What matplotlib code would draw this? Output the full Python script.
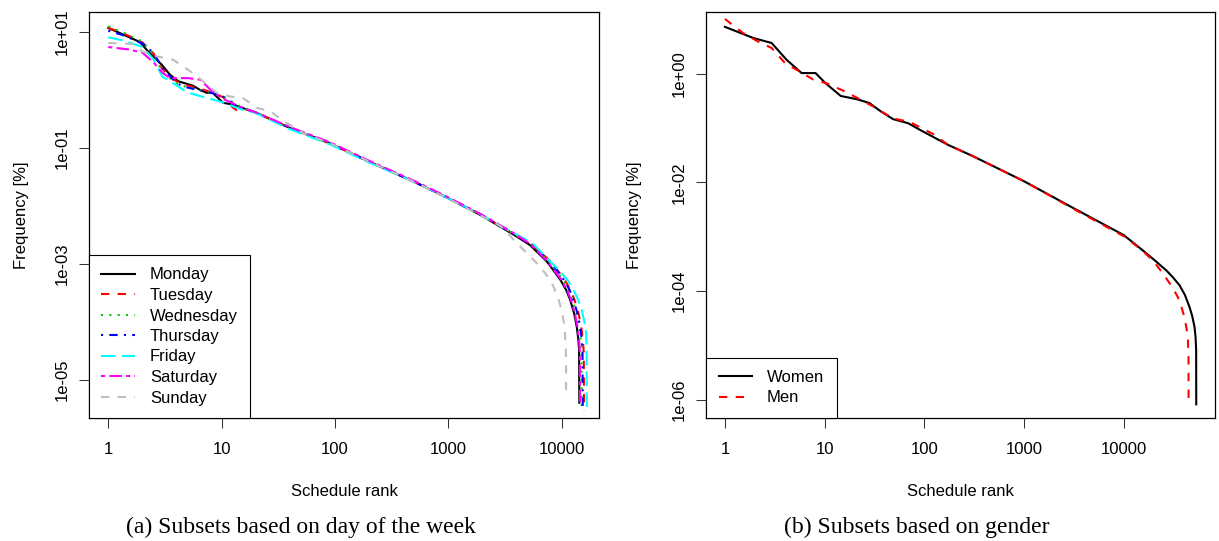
import matplotlib
matplotlib.use("Agg")
import matplotlib.pyplot as plt
from matplotlib.ticker import NullLocator

plt.rcParams['font.family'] = ['Liberation Sans', 'DejaVu Sans']

# ---- data (rank, frequency in %) ----
days = ['Monday', 'Tuesday', 'Wednesday', 'Thursday', 'Friday', 'Saturday', 'Sunday']
day_colors = ['black', '#FF0000', '#00CD00', '#0000FF', '#00FFFF', '#FF00FF', '#BEBEBE']
day_dashes = ['-', (0, (4, 4)), (0, (1, 3)), (0, (1, 3, 4, 3)), (0, (7, 3)),
              (0, (2, 2, 6, 2)), (0, (4, 4))]

monday_rank = [1, 1.36, 1.9, 2.25, 2.96, 3.5, 4.15, 5.6, 6.45, 7.4, 8.3, 10.3, 12.7,
               20.4, 40.2, 90.6, 200, 500, 1000, 1910, 3760, 5270, 7400, 9700,
               11000, 11900, 12900, 13600, 14050, 14280, 14350]
monday_freq = [11.7, 9.0, 6.7, 4.6, 2.73, 1.83, 1.41, 1.18, 1.0, 0.89, 0.9, 0.6, 0.556,
               0.4, 0.22, 0.12, 0.058, 0.026, 0.0135, 0.0070, 0.0032, 0.0021, 0.0011,
               5.4e-4, 3.5e-4, 2.4e-4, 1.4e-4, 8.3e-5, 5.0e-5, 3.3e-5, 4e-6]

tuesday_rank = [1, 1.4, 2, 2.5, 3, 4, 5, 7, 9, 11, 12.5, 13.5, 16, 20, 40, 90, 200,
                500, 1000, 1910, 3760, 5400, 8000, 10600, 12000, 13000, 14100, 14900,
                15400, 15700, 15800]
tuesday_freq = [11.8, 9.2, 6.6, 4.3, 2.3, 1.4, 1.2, 1.0, 0.85, 0.7, 0.5, 0.45, 0.47,
                0.41, 0.22, 0.12, 0.058, 0.026, 0.0136, 0.0072, 0.0033, 0.0022, 0.0011,
                5.4e-4, 3.5e-4, 2.4e-4, 1.4e-4, 8.3e-5, 5.0e-5, 3.0e-5, 2.9e-6]

wednesday_rank = [1, 1.4, 2, 2.5, 3, 4, 5, 7, 10, 15, 20, 40, 90, 200, 500, 1000,
                  1910, 3760, 5300, 7800, 10200, 11600, 12500, 13500, 14300, 14750,
                  15000, 15070]
wednesday_freq = [12.5, 9.5, 6.8, 4.2, 2.0, 1.3, 1.1, 0.95, 0.8, 0.5, 0.41, 0.22,
                  0.12, 0.057, 0.026, 0.0134, 0.0071, 0.0033, 0.0022, 0.0011, 5.4e-4,
                  3.5e-4, 2.4e-4, 1.4e-4, 8.3e-5, 5.0e-5, 3.2e-5, 3.3e-6]

thursday_rank = [1, 1.4, 2, 2.5, 3, 4, 5, 7, 10, 12, 14, 20, 40, 90, 200, 500, 1000,
                 1910, 3760, 5350, 7900, 10400, 11800, 12700, 13800, 14600, 15050,
                 15300, 15380]
thursday_freq = [10.5, 8.6, 6.3, 4.4, 2.4, 1.3, 1.1, 0.95, 0.8, 0.62, 0.5, 0.41, 0.22,
                 0.12, 0.058, 0.026, 0.0135, 0.0071, 0.0033, 0.0022, 0.0011, 5.4e-4,
                 3.5e-4, 2.4e-4, 1.4e-4, 8.3e-5, 5.0e-5, 3.2e-5, 3.1e-6]

friday_rank = [1, 1.4, 2, 2.5, 3, 4, 5, 7, 10, 15, 20, 40, 90, 200, 500, 1000, 1910,
               3760, 5500, 7400, 9700, 11300, 12700, 14000, 15070, 15900, 16440,
               16650, 16700]
friday_freq = [8.1, 7.0, 5.5, 3.4, 1.7, 1.2, 0.9, 0.75, 0.62, 0.46, 0.4, 0.21, 0.115,
               0.056, 0.026, 0.0135, 0.0072, 0.0034, 0.0023, 0.00126, 7.4e-4, 5.2e-4,
               3.6e-4, 2.4e-4, 1.6e-4, 1.0e-4, 6.4e-5, 3.6e-5, 3.2e-6]

saturday_rank = [1, 1.5, 2, 2.5, 3, 3.5, 5, 6.5, 8, 10, 15, 20, 40, 90, 200, 500,
                 1000, 1910, 3760, 5300, 7500, 9900, 11200, 12100, 13100, 13800,
                 14250, 14500, 14560]
saturday_freq = [5.5, 5.0, 4.4, 3.0, 2.0, 1.6, 1.6, 1.5, 1.0, 0.72, 0.5, 0.41, 0.23,
                 0.125, 0.06, 0.027, 0.014, 0.0073, 0.0034, 0.0022, 0.0011, 5.4e-4,
                 3.5e-4, 2.4e-4, 1.4e-4, 8.3e-5, 5.0e-5, 3.0e-5, 3.5e-6]

sunday_rank = [1, 1.66, 2, 2.67, 3.75, 5.3, 6.9, 9.06, 11.9, 15.5, 20.4, 26.7, 37.5,
               52.6, 100, 200, 500, 1000, 2880, 4600, 6460, 7500, 8470, 9300, 10000,
               10500, 10700, 10900, 10960, 10960]
sunday_freq = [6.45, 6.2, 4.6, 3.8, 3.3, 2.09, 1.4, 0.89, 0.77, 0.72, 0.49, 0.43,
               0.27, 0.18, 0.11, 0.058, 0.026, 0.0133, 0.0045, 0.00175, 9e-4, 6.1e-4,
               4.1e-4, 2.6e-4, 1.6e-4, 9.5e-5, 6.4e-5, 3.5e-5, 2.2e-5, 5.5e-6]

women_rank = [1, 1.92, 2.94, 4.15, 5.87, 8.1, 10.2, 14.5, 21, 28, 37, 48.6, 68.7, 90,
              173, 300, 1000, 3000, 10000, 15500, 20000, 26700, 31000, 36200, 41000,
              45600, 48500, 51200, 52500, 53200, 53300]
women_freq = [7.3, 4.56, 3.68, 1.81, 1.03, 1.03, 0.67, 0.39, 0.34, 0.29, 0.20, 0.146,
              0.123, 0.093, 0.049, 0.031, 0.0105, 0.0035, 0.00107, 5.6e-4, 3.8e-4,
              2.4e-4, 1.8e-4, 1.28e-4, 8.5e-5, 5.1e-5, 3.5e-5, 2.2e-5, 1.4e-5, 8.1e-6,
              8.2e-7]

men_rank = [1, 1.52, 2.16, 2.94, 4.0, 5.6, 7.7, 10.4, 15.3, 22.5, 30.6, 48.6, 71, 122,
            173, 300, 1000, 3000, 10000, 15500, 20000, 24700, 30000, 34800, 38000,
            40600, 42500, 43900, 44600, 44650]
men_freq = [10.2, 5.6, 3.9, 2.98, 1.57, 1.1, 0.78, 0.67, 0.49, 0.34, 0.25, 0.15, 0.13,
            0.078, 0.049, 0.031, 0.0105, 0.0034, 0.00102, 5.5e-4, 3.5e-4, 2.1e-4,
            1.25e-4, 7.8e-5, 5.0e-5, 3.3e-5, 2.1e-5, 1.4e-5, 6e-6, 8.5e-7]

day_ranks = [monday_rank, tuesday_rank, wednesday_rank, thursday_rank,
             friday_rank, saturday_rank, sunday_rank]
day_freqs = [monday_freq, tuesday_freq, wednesday_freq, thursday_freq,
             friday_freq, saturday_freq, sunday_freq]

x_ticks = [1, 10, 100, 1000, 10000]
x_ticklabels = ['1', '10', '100', '1000', '10000']
left_yticks = [1e1, 1e-1, 1e-3, 1e-5]
left_yticklabels = ['1e+01', '1e-01', '1e-03', '1e-05']
right_yticks = [1e0, 1e-2, 1e-4, 1e-6]
right_yticklabels = ['1e+00', '1e-02', '1e-04', '1e-06']


def style_axes(ax, yticks, yticklabels):
  ax.set_xscale('log')
  ax.set_yscale('log')
  ax.set_xticks(x_ticks)
  ax.set_xticklabels(x_ticklabels)
  ax.set_yticks(yticks)
  ax.set_yticklabels(yticklabels, rotation=90, va='center')
  ax.xaxis.set_minor_locator(NullLocator())
  ax.yaxis.set_minor_locator(NullLocator())
  ax.tick_params(length=7.2, width=0.75, labelsize=12, color='#333333')
  ax.tick_params(axis='x', pad=10)
  ax.tick_params(axis='y', pad=7)
  for s in ax.spines.values():
    s.set_linewidth(0.9)
  ax.set_xlabel('Schedule rank', fontsize=12)
  ax.set_ylabel('Frequency [%]', fontsize=12)
  ax.xaxis.label.set_va('center')
  ax.yaxis.label.set_va('center')


def add_legend(ax):
  leg = ax.legend(loc='lower left', bbox_to_anchor=(0, 0), borderaxespad=0,
                  fontsize=12, handlelength=2.0, handletextpad=0.9,
                  labelspacing=0.33, borderpad=0.75, fancybox=False,
                  framealpha=1, edgecolor='black')
  leg.get_frame().set_linewidth(0.8)


fig = plt.figure(figsize=(12.19, 5.41), dpi=100)

# (a) day of the week
ax1 = fig.add_axes([89 / 1219, 1 - 418 / 541, 510 / 1219, 406 / 541])
for name, col, ls, r, f in zip(days, day_colors, day_dashes, day_ranks, day_freqs):
  ax1.plot(r, f, color=col, linestyle=ls, linewidth=1.5, label=name)
style_axes(ax1, left_yticks, left_yticklabels)
ax1.set_xlim(0.676, 21400)
ax1.set_ylim(2.18e-6, 22.1)
ax1.xaxis.set_label_coords((344 - 89) / 510, (418 - 491) / 406)
ax1.yaxis.set_label_coords((22 - 89) / 510, 0.5)
add_legend(ax1)

# (b) gender
ax2 = fig.add_axes([706 / 1219, 1 - 418 / 541, 509 / 1219, 406 / 541])
ax2.plot(women_rank, women_freq, color='black', linestyle='-', linewidth=1.5, label='Women')
ax2.plot(men_rank, men_freq, color='#FF0000', linestyle=(0, (4, 4)), linewidth=1.5, label='Men')
style_axes(ax2, right_yticks, right_yticklabels)
ax2.set_xlim(0.6457, 82200)
ax2.set_ylim(4.6e-7, 13.7)
ax2.xaxis.set_label_coords((960 - 706) / 509, (418 - 491) / 406)
ax2.yaxis.set_label_coords((635 - 706) / 509, 0.5)
add_legend(ax2)

fig.text(301 / 1219, 1 - 527 / 541, '(a) Subsets based on day of the week',
         fontsize=17, family='Liberation Serif', ha='center', va='center')
fig.text(917 / 1219, 1 - 527 / 541, '(b) Subsets based on gender',
         fontsize=17, family='Liberation Serif', ha='center', va='center')

fig.savefig('out.png', dpi=100)
